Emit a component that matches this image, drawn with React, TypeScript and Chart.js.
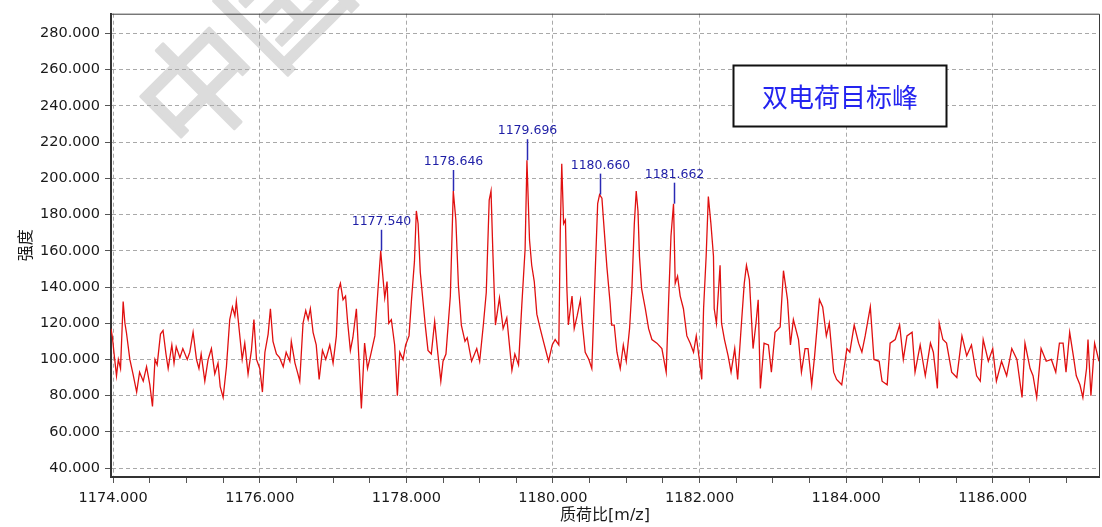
import React, { useEffect, useRef } from 'react';
import { Chart, registerables } from 'chart.js';

Chart.register(...registerables);

// m/z positions and intensities
const MZ = [
  1173.97, 1173.99, 1174.01, 1174.045, 1174.07, 1174.10, 1174.136, 1174.16, 1174.18, 1174.227,
  1174.27, 1174.32, 1174.36, 1174.41, 1174.455, 1174.50, 1174.536, 1174.57, 1174.60, 1174.645,
  1174.68, 1174.72, 1174.75, 1174.80, 1174.83, 1174.86, 1174.91, 1174.95, 1175.01, 1175.045,
  1175.09, 1175.136, 1175.17, 1175.20, 1175.25, 1175.295, 1175.34, 1175.386, 1175.43, 1175.46,
  1175.50, 1175.545, 1175.59, 1175.627, 1175.66, 1175.68, 1175.72, 1175.76, 1175.795, 1175.84,
  1175.886, 1175.92, 1175.955, 1176.00, 1176.036, 1176.07, 1176.114, 1176.145, 1176.18, 1176.227,
  1176.27, 1176.32, 1176.36, 1176.41, 1176.43, 1176.48, 1176.52, 1176.545, 1176.59, 1176.627,
  1176.66, 1176.69, 1176.727, 1176.77, 1176.81, 1176.855, 1176.90, 1176.955, 1177.00, 1177.045,
  1177.07, 1177.10, 1177.136, 1177.17, 1177.20, 1177.236, 1177.27, 1177.318, 1177.35, 1177.386,
  1177.43, 1177.47, 1177.51, 1177.57, 1177.61, 1177.65, 1177.67, 1177.705, 1177.736, 1177.76,
  1177.795, 1177.84, 1177.877, 1177.91, 1177.955, 1177.99, 1178.036, 1178.07, 1178.11, 1178.136,
  1178.16, 1178.19, 1178.227, 1178.26, 1178.295, 1178.34, 1178.386, 1178.43, 1178.47, 1178.50,
  1178.54, 1178.60, 1178.64, 1178.675, 1178.71, 1178.75, 1178.80, 1178.83, 1178.89, 1178.96,
  1179.00, 1179.05, 1179.09, 1179.13, 1179.155, 1179.18, 1179.215, 1179.27, 1179.32, 1179.37,
  1179.44, 1179.48, 1179.53, 1179.575, 1179.62, 1179.645, 1179.68, 1179.71, 1179.745, 1179.78,
  1179.826, 1179.87, 1179.94, 1179.99, 1180.03, 1180.08, 1180.10, 1180.12, 1180.145, 1180.17,
  1180.19, 1180.21, 1180.26, 1180.29, 1180.33, 1180.375, 1180.40, 1180.44, 1180.49, 1180.53,
  1180.577, 1180.61, 1180.636, 1180.668, 1180.70, 1180.736, 1180.78, 1180.80, 1180.836, 1180.873,
  1180.918, 1180.96, 1181.00, 1181.045, 1181.077, 1181.11, 1181.136, 1181.16, 1181.18, 1181.21,
  1181.26, 1181.305, 1181.35, 1181.418, 1181.486, 1181.545, 1181.577, 1181.61, 1181.645, 1181.668,
  1181.70, 1181.736, 1181.78, 1181.827, 1181.873, 1181.918, 1181.955, 1182.00, 1182.03, 1182.055,
  1182.09, 1182.12, 1182.155, 1182.19, 1182.20, 1182.23, 1182.28, 1182.30, 1182.34, 1182.39,
  1182.43, 1182.48, 1182.52, 1182.57, 1182.61, 1182.64, 1182.68, 1182.73, 1182.77, 1182.80,
  1182.83, 1182.88, 1182.94, 1182.98, 1183.03, 1183.10, 1183.145, 1183.20, 1183.24, 1183.28,
  1183.35, 1183.39, 1183.44, 1183.48, 1183.53, 1183.57, 1183.636, 1183.68, 1183.73, 1183.77,
  1183.83, 1183.87, 1183.94, 1184.01, 1184.05, 1184.11, 1184.17, 1184.215, 1184.26, 1184.33,
  1184.38, 1184.45, 1184.49, 1184.56, 1184.60, 1184.67, 1184.73, 1184.78, 1184.83, 1184.90,
  1184.94, 1185.01, 1185.08, 1185.15, 1185.19, 1185.245, 1185.27, 1185.32, 1185.37, 1185.44,
  1185.51, 1185.58, 1185.645, 1185.71, 1185.78, 1185.83, 1185.87, 1185.94, 1186.00, 1186.05,
  1186.12, 1186.19, 1186.26, 1186.33, 1186.40, 1186.44, 1186.51, 1186.55, 1186.60, 1186.66,
  1186.73, 1186.80, 1186.86, 1186.91, 1186.96, 1187.00, 1187.05, 1187.10, 1187.14, 1187.19,
  1187.23, 1187.28, 1187.30, 1187.34, 1187.39, 1187.45,
];

const INTENSITY = [
  117, 112, 104, 91, 100, 95, 132, 120, 115, 100,
  92, 82, 93, 88, 96, 86, 74, 100, 97, 114,
  116, 103, 95, 108, 98, 107, 101, 106, 100, 104,
  115, 100, 95, 103, 88, 100, 106, 92, 98, 85,
  79, 96, 122, 129, 124, 132, 116, 100, 109, 92,
  105, 122, 100, 95, 82, 104, 114, 128, 110, 103,
  101, 96, 104, 99, 110, 98, 92, 88, 120, 127,
  122, 128, 115, 108, 89, 105, 100, 108, 98, 113,
  138, 142, 133, 135, 120, 105, 112, 128, 102, 73,
  109, 95, 102, 113, 137, 160, 150, 134, 143, 120,
  122, 108, 80, 104, 100, 108, 113, 133, 154, 182,
  175, 148, 132, 118, 105, 103, 121, 103, 88, 99,
  103, 135, 193, 177, 141, 119, 110, 112, 99, 106,
  99, 119, 137, 188, 193, 159, 119, 134, 117, 123,
  94, 103, 97, 130, 161, 210, 166, 152, 143, 125,
  117, 110, 99, 108, 111, 108, 171, 208, 175, 177,
  139, 119, 135, 117, 124, 133, 120, 104, 100, 95,
  149, 186, 191, 189, 171, 151, 131, 119, 119, 104,
  95, 108, 99, 117, 139, 175, 193, 182, 157, 139,
  128, 117, 111, 109, 106, 93, 131, 168, 186, 142,
  146, 135, 128, 113, 109, 104, 113, 99, 89, 128,
  157, 190, 175, 157, 128, 120, 152, 120, 111, 102,
  93, 106, 89, 119, 142, 152, 144, 106, 120, 133,
  84, 109, 108, 93, 115, 118, 149, 133, 108, 122,
  111, 93, 106, 106, 86, 102, 133, 129, 113, 120,
  93, 89, 86, 106, 104, 119, 109, 104, 113, 129,
  100, 99, 88, 86, 109, 111, 119, 100, 113, 115,
  93, 108, 91, 109, 104, 84, 120, 111, 109, 93,
  90, 113, 102, 108, 91, 88, 111, 99, 106, 88,
  99, 91, 106, 100, 79, 109, 95, 91, 79, 106,
  99, 100, 93, 109, 109, 93, 115, 102, 91, 86,
  79, 95, 111, 80, 109, 99,
];

// labelled peaks: drawn position on the axis and the printed label
const PEAK_MZ = [1177.65, 1178.64, 1179.645, 1180.636, 1181.645];
const PEAK_LABELS = ['1177.540', '1178.646', '1179.696', '1180.660', '1181.662'];

const X_MIN = 1173.97;
const X_MAX = 1187.45;
const Y_MIN = 35.1;
const Y_MAX = 290.9;
const X_TITLE = '质荷比[m/z]';
const Y_TITLE = '强度';
const NOTE_TEXT = '双电荷目标峰';
const WATERMARK = '中国知网';

export default function App() {
  const ref = useRef<HTMLCanvasElement>(null);

  useEffect(() => {
    const canvas = ref.current;
    if (!canvas) return;
    const isMajor = (v: number) => Math.abs(v / 2 - Math.round(v / 2)) < 1e-6;

    const watermarkPlugin = {
      id: 'watermark',
      beforeDraw(chart: any) {
        const { ctx } = chart;
        ctx.save();
        ctx.translate(199, 86);
        ctx.rotate(-Math.PI / 4);
        ctx.fillStyle = '#dcdcdc';
        ctx.strokeStyle = '#dcdcdc';
        ctx.lineWidth = 3;
        ctx.lineJoin = 'round';
        ctx.font = '120px "Noto Sans CJK SC"';
        ctx.textAlign = 'left';
        ctx.textBaseline = 'middle';
        ctx.fillText(WATERMARK, -60, 0);
        ctx.strokeText(WATERMARK, -60, 0);
        ctx.restore();
      },
    };

    const peakPlugin = {
      id: 'peakLabels',
      afterDatasetsDraw(chart: any) {
        const { ctx, scales } = chart;
        const x = scales.x;
        const y = scales.y;
        ctx.save();
        PEAK_MZ.forEach((m, i) => {
          let best = 0;
          for (let j = 0; j < MZ.length; j++) {
            if (Math.abs(MZ[j] - m) < Math.abs(MZ[best] - m)) best = j;
          }
          const px = Math.round(x.getPixelForValue(MZ[best])) + 0.5;
          const py = y.getPixelForValue(INTENSITY[best]);
          ctx.strokeStyle = '#2a2ab4';
          ctx.lineWidth = 1.5;
          ctx.beginPath();
          ctx.moveTo(px, py);
          ctx.lineTo(px, py - 21);
          ctx.stroke();
          ctx.fillStyle = '#1e1ea6';
          ctx.font = '12.5px "DejaVu Sans"';
          ctx.textAlign = 'center';
          ctx.textBaseline = 'alphabetic';
          ctx.fillText(PEAK_LABELS[i], px, py - 26);
        });
        ctx.restore();
      },
    };

    const framePlugin = {
      id: 'frameAndNotes',
      afterDraw(chart: any) {
        const { ctx, chartArea } = chart;
        const { left, top, right, bottom } = chartArea;
        ctx.save();
        // top and right frame lines
        ctx.strokeStyle = '#3a3a3a';
        ctx.lineWidth = 1;
        ctx.beginPath();
        ctx.moveTo(left, top + 0.5);
        ctx.lineTo(right + 0.5, top + 0.5);
        ctx.lineTo(right + 0.5, bottom);
        ctx.stroke();

        // note box
        const bx = 733.5, by = 65.5, bw = 213, bh = 61;
        ctx.fillStyle = '#ffffff';
        ctx.fillRect(bx, by, bw, bh);
        ctx.strokeStyle = '#111111';
        ctx.lineWidth = 2;
        ctx.strokeRect(bx, by, bw, bh);
        ctx.fillStyle = '#2424f0';
        ctx.font = '26px "Noto Sans CJK SC"';
        ctx.textAlign = 'center';
        ctx.textBaseline = 'middle';
        ctx.fillText(NOTE_TEXT, bx + bw / 2, by + bh / 2 + 1);
        ctx.restore();
      },
    };

    const chart = new Chart(canvas, {
      type: 'line',
      data: {
        datasets: [
          {
            data: MZ.map((m, i) => ({ x: m, y: INTENSITY[i] })),
            borderColor: '#e01010',
            borderWidth: 1.3,
            pointRadius: 0,
            tension: 0,
            fill: false,
          },
        ],
      },
      options: {
        responsive: false,
        animation: false,
        events: [],
        layout: { padding: { left: 0, right: 3, top: 8, bottom: 0 } },
        plugins: { legend: { display: false }, tooltip: { enabled: false } },
        scales: {
          x: {
            type: 'linear',
            min: X_MIN,
            max: X_MAX,
            afterFit(scale: any) {
              scale.height = 50;
            },
            ticks: {
              stepSize: 0.5,
              includeBounds: false,
              autoSkip: false,
              maxRotation: 0,
              padding: 7,
              color: '#1a1a1a',
              font: { family: '"DejaVu Sans"', size: 14.5 },
              callback: (v: any) => (isMajor(Number(v)) ? Number(v).toFixed(3) : ''),
            },
            grid: {
              color: (c: any) => (c.tick && isMajor(c.tick.value) ? '#a9a9a9' : 'rgba(0,0,0,0)'),
              tickColor: '#555555',
              tickLength: 6,
              lineWidth: 1,
            },
            border: { display: true, color: '#333333', width: 2, dash: [4, 3] },
            title: {
              display: true,
              text: X_TITLE,
              color: '#1a1a1a',
              font: { family: '"DejaVu Sans", "Noto Sans CJK SC"', size: 16 },
              padding: { top: 0, bottom: 1.5 },
            },
          },
          y: {
            type: 'linear',
            min: Y_MIN,
            max: Y_MAX,
            afterFit(scale: any) {
              scale.width = 111;
            },
            ticks: {
              stepSize: 20,
              includeBounds: false,
              autoSkip: false,
              padding: 5,
              color: '#1a1a1a',
              font: { family: '"DejaVu Sans"', size: 14.5 },
              callback: (v: any) => Number(v).toFixed(3),
            },
            grid: {
              color: '#a9a9a9',
              tickColor: '#555555',
              tickLength: 6,
              lineWidth: 1,
            },
            border: { display: true, color: '#333333', width: 2, dash: [4, 3] },
            title: {
              display: true,
              text: Y_TITLE,
              color: '#1a1a1a',
              font: { family: '"Noto Sans CJK SC"', size: 16 },
              padding: { top: 15, bottom: 0 },
            },
          },
        },
      },
      plugins: [watermarkPlugin, peakPlugin, framePlugin],
    });

    return () => chart.destroy();
  }, []);

  return (
    <div style={{ position: 'fixed', left: 0, top: 0, width: 1102, height: 527, background: '#fff' }}>
      <canvas ref={ref} width={1102} height={527} style={{ display: 'block', width: 1102, height: 527 }} />
    </div>
  );
}
